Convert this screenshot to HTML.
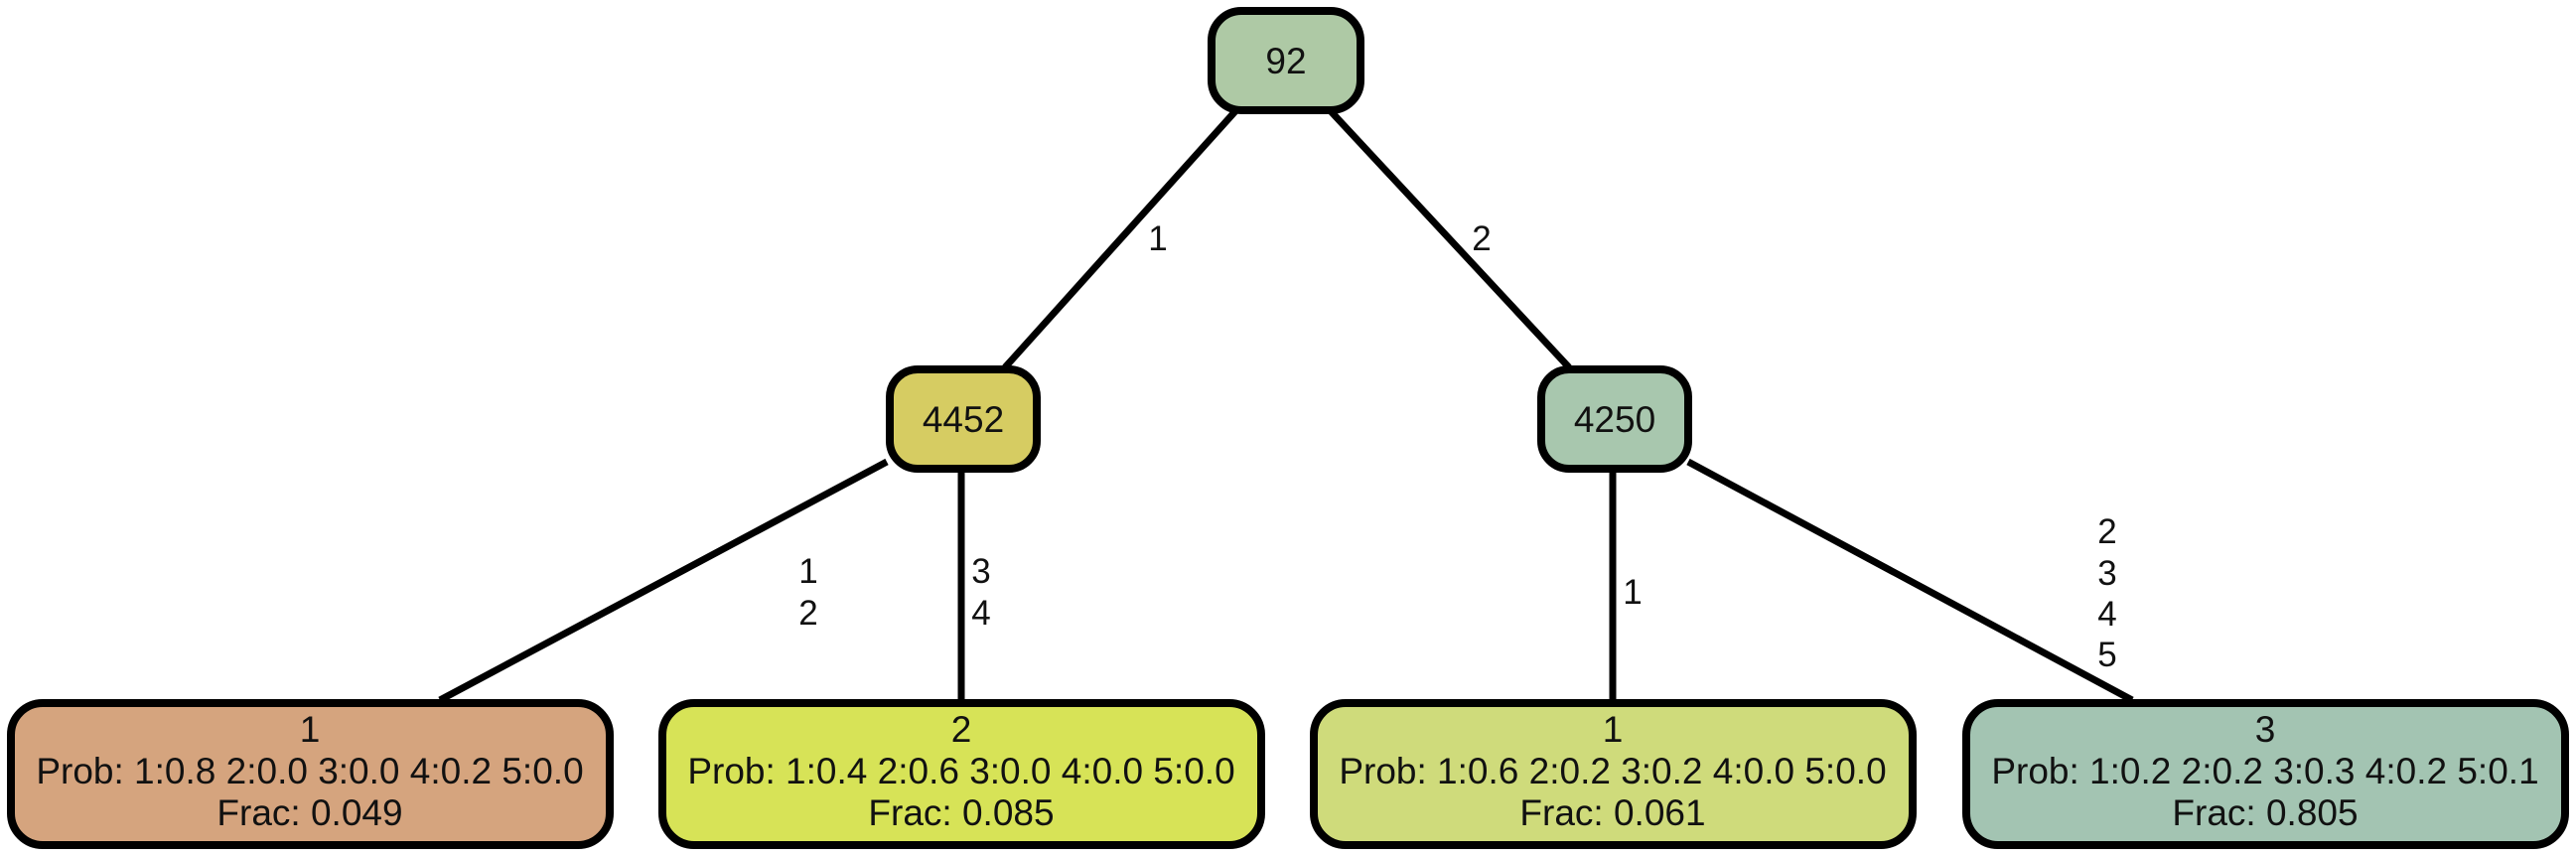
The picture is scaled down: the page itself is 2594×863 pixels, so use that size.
<!DOCTYPE html>
<html><head><meta charset="utf-8"><style>
html,body{margin:0;padding:0;background:#fff;}
svg{display:block;}
text{font-family:"Liberation Sans",sans-serif;fill:#111;}
</style></head><body>
<svg width="2594" height="863" viewBox="0 0 2594 863" xmlns="http://www.w3.org/2000/svg">
<g stroke="#000" stroke-width="7" fill="none">
<line x1="1244" y1="112" x2="1012" y2="370"/>
<line x1="1340" y1="112" x2="1580" y2="370"/>
<line x1="893" y1="465" x2="443" y2="705"/>
<line x1="968" y1="473" x2="968" y2="705"/>
<line x1="1624" y1="473" x2="1624" y2="705"/>
<line x1="1700" y1="465" x2="2147" y2="705"/>
</g>
<g stroke="#000" stroke-width="8">
<rect x="1220" y="11" width="150" height="100" rx="30" fill="#aec9a5"/>
<rect x="896" y="372" width="148" height="100" rx="28" fill="#d6cc62"/>
<rect x="1552" y="372" width="148" height="100" rx="28" fill="#a8c7ae"/>
<rect x="11" y="708" width="603" height="143" rx="32" fill="#d5a47e"/>
<rect x="667" y="708" width="603" height="143" rx="32" fill="#d7e357"/>
<rect x="1323" y="708" width="603" height="143" rx="32" fill="#cfdb7b"/>
<rect x="1980" y="708" width="603" height="143" rx="32" fill="#a3c4b2"/>
</g>
<g font-size="37" text-anchor="middle">
<text x="1295" y="74">92</text>
<text x="970" y="435">4452</text>
<text x="1626" y="435">4250</text>
<text x="312" y="747">1</text>
<text x="312" y="789">Prob: 1:0.8 2:0.0 3:0.0 4:0.2 5:0.0</text>
<text x="312" y="831">Frac: 0.049</text>
<text x="968" y="747">2</text>
<text x="968" y="789">Prob: 1:0.4 2:0.6 3:0.0 4:0.0 5:0.0</text>
<text x="968" y="831">Frac: 0.085</text>
<text x="1624" y="747">1</text>
<text x="1624" y="789">Prob: 1:0.6 2:0.2 3:0.2 4:0.0 5:0.0</text>
<text x="1624" y="831">Frac: 0.061</text>
<text x="2281" y="747">3</text>
<text x="2281" y="789">Prob: 1:0.2 2:0.2 3:0.3 4:0.2 5:0.1</text>
<text x="2281" y="831">Frac: 0.805</text>
</g>
<g font-size="35" text-anchor="middle" fill="#222">
<text x="1166" y="252">1</text>
<text x="1492" y="252">2</text>
<text x="814" y="587">1</text>
<text x="814" y="629">2</text>
<text x="988" y="587">3</text>
<text x="988" y="629">4</text>
<text x="1644" y="608">1</text>
<text x="2122" y="547">2</text>
<text x="2122" y="589">3</text>
<text x="2122" y="630">4</text>
<text x="2122" y="671">5</text>
</g>
</svg>
</body></html>
